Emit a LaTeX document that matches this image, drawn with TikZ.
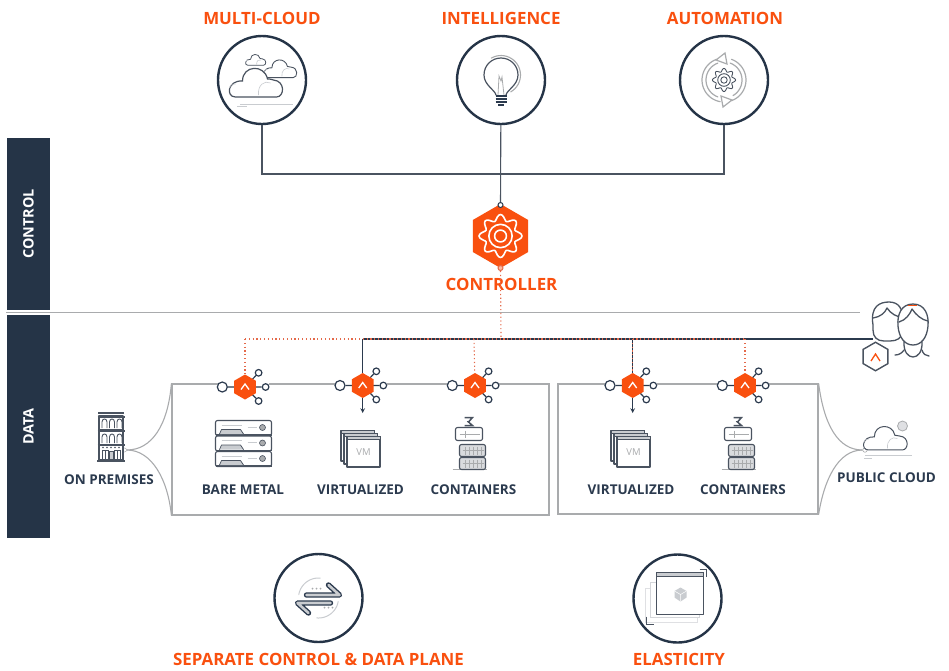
\documentclass[tikz,border=0pt]{standalone}
\usepackage{fontspec}
\setmainfont{Open Sans}
\usepackage{tikz}
\usetikzlibrary{arrows, shapes, shapes.geometric, fit, backgrounds, calc}
\definecolor{ngOrange}{HTML}{F9500F}
\definecolor{ngDot}{HTML}{E4694A}
\definecolor{ngDark}{HTML}{2B3A4E}
\definecolor{ngBand}{HTML}{253447}
\definecolor{ngLine}{HTML}{4A5360}
\definecolor{ngGrey}{HTML}{A9ABAD}
\definecolor{ngPale}{HTML}{C9CCD0}
\newcommand{\arcpx}[3]{plot[domain=#2:#3,samples=24] ({#1*cos(\x)},{#1*sin(\x)})}

\begin{document}
\begin{tikzpicture}[x=1pt,y=-1pt]

    \useasboundingbox (0,0) rectangle (949,670);

    % Labels
    \tikzset{headL/.style={font=\bfseries\fontsize{16.9}{18}\selectfont, text=ngOrange, inner sep=0pt}}
    \tikzset{bodyL/.style={font=\bfseries\fontsize{13.5}{15}\selectfont, text=ngDark, inner sep=0pt}}
    \tikzset{bandL/.style={font=\bfseries\fontsize{14.4}{16}\selectfont, text=white, rotate=90, inner sep=0pt}}

    % Nodes
    \tikzset{bigC/.style={draw=ngBand, line width=2.4pt, circle, minimum size=88pt, inner sep=0pt, fill=white}}
    \tikzset{hexO/.style={regular polygon, regular polygon sides=6, shape border rotate=30, fill=ngOrange, inner sep=0pt}}
    \tikzset{portA/.style={draw=ngDark, line width=1.2pt, circle, fill=white, inner sep=0pt, minimum size=10pt}}
    \tikzset{portB/.style={portA, minimum size=6.6pt}}
    \tikzset{planeBox/.style={draw=ngGrey, line width=1.2pt, inner sep=0pt}}
    \tikzset{bandBox/.style={fill=ngBand, minimum width=43pt, inner sep=0pt}}

    % Connectors
    \tikzset{pCtl/.style={draw=ngLine, line width=1.1pt}}
    \tikzset{pBus/.style={draw=ngDark, line width=1.2pt}}
    \tikzset{pDot/.style={draw=ngDot, line width=1.1pt, dash pattern=on 1.2pt off 2.6pt}}
    \tikzset{pFan/.style={draw=ngGrey, line width=1.1pt}}
    \tikzset{icoD/.style={draw=ngLine, line width=1.1pt, line join=round, line cap=round}}
    \tikzset{icoG/.style={draw=ngGrey, line width=.8pt, line cap=round}}

    % Icons
    \tikzset{
      cloudI/.pic={
        \path[pic actions, fill=white] (-20,14) -- (21,14) .. controls (29,14) and (30,-2) .. (18,-3)
          .. controls (15,-4) and (14,-4) .. (12,-4) .. controls (9,-19) and (-13,-18) .. (-13,-2)
          .. controls (-28,-3) and (-30,14) .. (-20,14) -- cycle;
        \draw[ngPale, line width=.6pt] (-26,5) .. controls (-25,1) and (-22,0) .. (-20,1);
        \draw[ngPale, line width=.6pt] (3,12) .. controls (2,2) and (9,-3) .. (15,0);
      },
      gearI/.pic={
        \path[pic actions] plot[domain=0:360,samples=81,smooth] ({(10+1.6*cos(8*\x))*cos(\x)},{(10+1.6*cos(8*\x))*sin(\x)}) -- cycle;
        \path[pic actions] (0,0) circle[radius=6.3pt];
        \path[pic actions] (0,0) circle[radius=3.2pt];
      },
      agentI/.pic={
        \fill[white] (-24,-5) rectangle (24,5);
        \coordinate (-c) at (0,0);
        \node (-in) [portA] at (-22.7,0) {};
        \node (-o1) [portB] at (20.6,0) {};
        \node (-o2) [portB] at (13.6,-14.2) {};
        \node (-o3) [portB] at (13.6,14) {};
        \path[pBus] (-in) -- (-c) (-o1) -- (-c) (-o2) -- (-c) (-o3) -- (-c);
        \node (-hex) [hexO, minimum size=25pt] at (0,0) {};
        \draw[white, line width=1.3pt] (-4,2.5) -- (0,-3) -- (4,2.5);
      },
      serverI/.pic={
        \foreach \r in {-15.5,0,15.5} {
          \draw[icoD, line width=1.1pt, fill=white, rounded corners=2pt] (-28,\r-7.5) rectangle (28,\r+7.5);
          \draw[ngLine, line width=1.6pt] (-28,\r+7) -- (28,\r+7);
          \fill[ngPale] (-24,\r+6) -- (-22,\r+1.5) -- (-3,\r+1.5) -- (0,\r+6) -- cycle;
          \draw[icoD, line width=.7pt] (-24,\r+6) -- (-22,\r+1.5) -- (-3,\r+1.5) -- (0,\r+6);
          \draw[ngPale, line width=.6pt] (-22,\r-3) -- (-2,\r-3) (4,\r-1) -- (13,\r-1);
          \draw[ngLine, fill=ngGrey, line width=.6pt] (19,\r-.5) circle[radius=3pt];
        }
      },
      vmI/.pic={
        \foreach \d in {0,3} {
          \draw[icoD, fill=white] (-19.5+\d,-18.5+\d) rectangle (14+\d,12+\d);
          \draw[ngLine, line width=1pt, fill=ngPale] (-19.5+\d,-18.5+\d) rectangle (14+\d,-16+\d);
        }
        \draw[icoD, fill=white] (-13.5,-12.5) rectangle (19.5,18);
        \draw[ngLine, line width=1pt, fill=ngPale] (-13.5,-12.5) rectangle (19.5,-9.5);
        \node (-vm) [inner sep=0pt, text=ngGrey, font=\fontsize{9.5}{9.5}\selectfont] at (3,3) {VM};
      },
      containerI/.pic={
        \draw[ngGrey, line width=.6pt] (-16,25.5) -- (18,25.5);
        \draw[ngLine, line width=1.5pt] (-4,-26) -- (4,-26) -- (0,-21.5) -- (4,-18) -- (-4,-18);
        \draw[ngLine, line width=1.1pt] (-2,-22) -- (1,-22);
        \draw[icoD, fill=white, rounded corners=2pt] (-13,-16) rectangle (14,-3);
        \draw[ngGrey, line width=.6pt] (-9,-9.5) -- (11,-9.5) (-3,-13) -- (-3,-6);
        \foreach \r/\s in {1/13,14/26} {
          \draw[icoD, fill=ngPale!70, rounded corners=2pt] (-9,\r) rectangle (17,\s);
          \foreach \g in {-3,1,5,9,13} {\draw[ngGrey, line width=.4pt] (\g,\r+2) -- (\g,\s-2);}
          \draw[ngGrey, line width=.4pt] (-6,\r+6) -- (15,\r+6);
        }
      }
    }

    % Side bands
    \node (control) [bandBox, minimum height=172pt] at (28.5,224) {};
    \node (data) [bandBox, minimum height=223pt] at (28.5,426.5) {};
    \node (controlL) [bandL] at (control.center) {CONTROL};
    \node (dataL) [bandL] at (data.center) {DATA};
    \coordinate (sepA) at (6,312.7);
    \coordinate (sepB) at (860,312.7);
    \draw[draw=ngGrey, line width=.9pt] (sepA) -- (sepB);

    % Top row
    \coordinate (joinA) at (262,174);
    \coordinate (joinB) at (724,174);
    \node (ctrl) [hexO, minimum size=64pt] at (500.5,236) {};
    \node (multi) [bigC] at (262,80) {};
    \node (intel) [bigC] at (501,80) {};
    \node (autom) [bigC] at (724,80) {};
    \node (multiL) [headL] at (262,18) {MULTI-CLOUD};
    \node (intelL) [headL] at (501,18) {INTELLIGENCE};
    \node (automL) [headL] at (725,18) {AUTOMATION};
    \node (ctrlL) [headL] at (501.5,284.5) {CONTROLLER};

    % Controller
    \node (ctrlT) [portB, minimum size=5pt, line width=1pt] at (500.5,205) {};
    \node (ctrlB) [portB, minimum size=5pt, line width=1pt, draw=ngDot, fill=ngOrange!40] at (500.5,268) {};
    \path[pCtl] (multi) -- (joinA) -- (joinB) -- (autom);
    \path[pCtl] (intel) -- (ctrlT);
    \pic[draw=white, line width=1.6pt, scale=1.85] at (500.5,236) {gearI};

    % Data plane boxes
    \node (boxL) [planeBox, minimum width=377pt, minimum height=131pt] at (360.5,449.5) {};
    \node (boxR) [planeBox, minimum width=260pt, minimum height=130pt] at (688,449) {};

    % Bus lines
    \coordinate (busA) at (245,339);
    \coordinate (busB) at (362.7,339);
    \coordinate (busC) at (474,339);
    \coordinate (busD) at (501,339);
    \coordinate (busE) at (632.7,339);
    \coordinate (busF) at (745,339);
    \coordinate (busG) at (873,339);
    \coordinate (downB) at (362.7,413);
    \coordinate (downE) at (632.7,413);
    \path[pBus] (busB) -- (busG);

    % Agents
    \pic (h1) at (245,387) {agentI};
    \pic (h2) at (362.7,385.5) {agentI};
    \pic (h3) at (475,385.5) {agentI};
    \pic (h4) at (632.7,385.5) {agentI};
    \pic (h5) at (745,385.5) {agentI};

    \path[pBus] (busB) -- (h2-hex);
    \path[pBus] (busE) -- (h4-hex);
    \draw[draw=ngDark, line width=1.1pt, -stealth] (h2-hex) -- (downB);
    \draw[draw=ngDark, line width=1.1pt, -stealth] (h4-hex) -- (downE);
    \path[pDot] (ctrlB) -- (busD);
    \path[pDot] (busA) -- (busF);
    \path[pDot] (busA) -- (h1-hex);
    \path[pDot] (busC) -- (h3-hex);
    \path[pDot] (busE) -- (h4-hex);
    \path[pDot] (busF) -- (h5-hex);

    % Icons and names in the boxes
    \pic at (243.5,443.5) {serverI};
    \pic at (360.5,449) {vmI};
    \pic at (468.5,443.5) {containerI};
    \pic at (630.5,449) {vmI};
    \pic at (737.5,443.5) {containerI};
    \node (bareL) [bodyL] at (243,490) {BARE METAL};
    \node (virtL) [bodyL] at (360.5,490) {VIRTUALIZED};
    \node (contL) [bodyL] at (473.5,490) {CONTAINERS};
    \node (virtR) [bodyL] at (631,490) {VIRTUALIZED};
    \node (contR) [bodyL] at (743,490) {CONTAINERS};

    % On premises
    \node (premT) [portB, minimum size=4pt, line width=.5pt, draw=ngGrey] at (124.5,450) {};
    \path[pFan] (premT) .. controls (152,450) and (168,425) .. (boxL.north west);
    \path[pFan] (premT) .. controls (152,450) and (168,480) .. (boxL.south west);
    \node (premL) [bodyL] at (109,479.5) {ON PREMISES};
    \foreach \f in {416,431} {
      \draw[icoD, fill=white] (99,\f) rectangle (123,\f+14);
      \foreach \w in {102,109.5,117} {
        \draw[ngLine, line width=.9pt] (\w,\f+12) -- (\w,\f+6) .. controls (\w,\f+2) and (\w+5,\f+2) .. (\w+5,\f+6) -- (\w+5,\f+12);
      }
    }
    \draw[ngLine, line width=2pt] (98,413) -- (124,413) (97.5,416.5) -- (124.5,416.5) (97.5,431) -- (124.5,431) (97.5,445) -- (124.5,445);
    \draw[icoD, fill=white] (99,445) rectangle (123,460);
    \draw[ngLine, line width=.8pt] (102,450) rectangle (108,459) (114,450) rectangle (120,459) (105,450) -- (105,459) (117,450) -- (117,459);
    \draw[ngLine, fill=ngPale, line width=.6pt] (109,459) rectangle (113,451);
    \draw[ngLine, line width=1.6pt] (97,461) -- (125,461);
    \foreach \w in {102,106,110,114,118} {\fill[ngLine] (\w+1,447.5) circle[radius=.9pt];}

    % Public cloud
    \node (pubT) [portB, minimum size=4.5pt, line width=.6pt, draw=ngGrey] at (865,450) {};
    \path[pFan] (pubT) .. controls (838,450) and (824,425) .. (boxR.north east);
    \path[pFan] (pubT) .. controls (838,450) and (824,480) .. (boxR.south east);
    \pic[draw=ngLine, line width=1pt, scale=.82] at (885,438.5) {cloudI};
    \draw[draw=ngGrey, fill=ngPale!60, line width=.8pt] (902.5,426) circle[radius=5pt];
    \draw[ngPale, line width=.6pt] (865,455) -- (912,455) (864,458) -- (872,458);
    \node (pubL) [bodyL] at (886.5,478) {PUBLIC CLOUD};

    % Users
    \draw[icoD, line width=1.3pt, fill=white] (873,325) .. controls (870,306) and (880,302) .. (889,302)
      .. controls (898,302) and (904,308) .. (902,322) -- (902,332) .. controls (902,338) and (897,341) .. (890,341)
      -- (884,341) .. controls (877,341) and (873,337) .. (873,330) -- cycle;
    \draw[icoD, line width=1.3pt] (873,318) .. controls (880,317) and (885,313) .. (887,308) .. controls (891,314) and (897,317) .. (902,317);
    \draw[icoD, line width=1.3pt, fill=white] (904,342) .. controls (903,362) and (923,362) .. (922,342);
    \draw[icoD, line width=1.3pt] (895,355) .. controls (899,355) and (902,353) .. (904,350) (922,350) .. controls (923,354) and (926,356) .. (929,356);
    \draw[icoD, line width=1.3pt, fill=white] (913,304) .. controls (925,304) and (929,315) .. (928,326)
      .. controls (927,338) and (921,345) .. (913,345) .. controls (905,345) and (899,338) .. (898,326) .. controls (897,315) and (901,304) .. (913,304) -- cycle;
    \draw[icoD, line width=1.3pt] (899,322) .. controls (906,320) and (910,314) .. (912,309) .. controls (916,315) and (922,320) .. (928,321);
    \draw[ngOrange, line width=1.4pt] (908,305.5) -- (917,305.5);
    \node (userHex) [regular polygon, regular polygon sides=6, shape border rotate=30, draw=ngLine, line width=1.4pt, fill=white, inner sep=0pt, minimum size=28.5pt] at (875.5,356.5) {};
    \draw[ngOrange, line width=1.3pt] (871,361) -- (875.5,354) -- (880,361);

    % Top icons
    \pic[draw=ngLine, line width=.8pt, scale=.38] at (255.5,60) {cloudI};
    \pic[draw=ngLine, line width=.9pt, scale=.62] at (280,69) {cloudI};
    \pic[draw=ngLine, line width=1.2pt] at (255.5,83) {cloudI};
    \draw[ngPale, line width=.6pt] (240,104) -- (293,104) (237,106) -- (247,106);

    \begin{scope}[shift={(501,75)}]
      \draw[icoG, line width=1.1pt] \arcpx{19.5}{-120}{60};
      \draw[icoD, line width=1.2pt] (-5,20) .. controls (-6,15) and (-17,10) .. (-17,0) .. controls (-17,-10) and (-9,-17) .. (0,-17)
        .. controls (9,-17) and (17,-10) .. (17,0) .. controls (17,10) and (6,15) .. (5,20);
      \draw[ngGrey, line width=.8pt] (-3,20) -- (-2,1) -- (0,6) -- (1,2) -- (3,20);
      \foreach \s in {21,24,27} {\draw[ngDark, line width=1.7pt] (-5.5,\s) -- (5.5,\s);}
      \draw[ngDark, line width=1.4pt] (-3,30) -- (3,30);
    \end{scope}

    \pic[draw=ngLine, line width=.9pt] at (724,80) {gearI};
    \begin{scope}[shift={(724,80)}]
      \draw[icoG, line width=1.2pt] \arcpx{22}{100}{250};
      \draw[icoG, line width=1.2pt] \arcpx{18}{110}{250};
      \draw[icoG, line width=1.2pt] \arcpx{22}{-70}{70};
      \draw[icoG, line width=1.2pt] \arcpx{18}{-70}{60};
      \draw[icoG, line width=1.2pt, fill=white] (1,-27) -- (-8,-20) -- (3,-16) -- cycle;
      \draw[icoG, line width=1.2pt, fill=white] (-1,27) -- (8,20) -- (-3,16) -- cycle;
    \end{scope}

    % Bottom row
    \node (plane) [bigC] at (318.5,598) {};
    \node (elast) [bigC] at (677.5,598.5) {};
    \node (planeL) [headL] at (318.5,659.5) {SEPARATE CONTROL \& DATA PLANE};
    \node (elastL) [headL] at (679,659.5) {ELASTICITY};

    \begin{scope}[shift={(318.5,598)}]
      \draw[icoG, ngPale, line width=1pt] \arcpx{20}{190}{275};
      \draw[icoG, ngPale, line width=1pt] \arcpx{20}{10}{95};
      \foreach \d in {-6,-2,2} {\fill[ngGrey] (\d,-9.5) circle[radius=1pt]; \fill[ngGrey] (\d+12,9.5) circle[radius=1pt];}
      \draw[ngDark, line width=5.4pt, line cap=round, line join=round] (-12,-3) -- (21,-3) -- (10,-13);
      \draw[ngPale, line width=2.6pt, line cap=round, line join=round] (-12,-3) -- (21,-3) -- (10,-13);
      \draw[ngDark, line width=5.4pt, line cap=round, line join=round] (12,5) -- (-21,5) -- (-10,15);
      \draw[ngPale, line width=2.6pt, line cap=round, line join=round] (12,5) -- (-21,5) -- (-10,15);
    \end{scope}

    \begin{scope}[shift={(677.5,598.5)}]
      \draw[ngPale!60, line width=.7pt] (-32,-10) rectangle (20,24);
      \draw[ngPale!80, fill=white, line width=.7pt] (-27,-16) rectangle (22,19);
      \draw[icoD, line width=1.2pt, fill=white] (-21,-26) rectangle (26,16);
      \draw[ngLine, line width=1pt, fill=ngPale] (-21,-26) rectangle (26,-22);
      \draw[ngLine, line width=.8pt] (22,-29) -- (29,-29) -- (29,-22);
      \draw[ngLine, line width=.8pt] (-31,18) -- (-31,26) -- (-24,26);
      \fill[ngPale] (3,-11) -- (9,-7.5) -- (9,-1) -- (3,3) -- (-3,-1) -- (-3,-7.5) -- cycle;
      \draw[white, line width=.5pt] (-3,-7.5) -- (3,-4) -- (9,-7.5) (3,-4) -- (3,3);
    \end{scope}

\end{tikzpicture}
\end{document}
